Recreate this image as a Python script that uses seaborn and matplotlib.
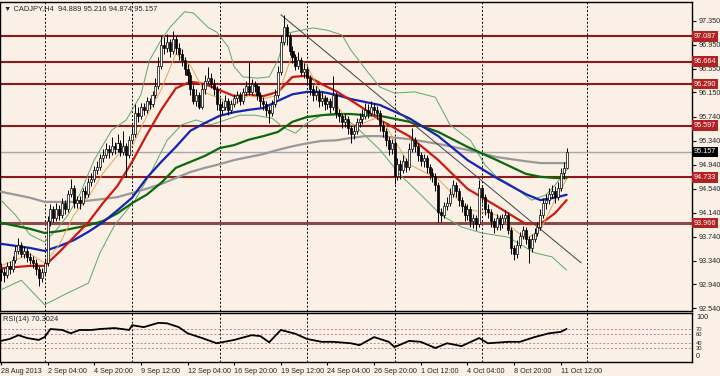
import matplotlib
matplotlib.use("Agg")
import matplotlib.pyplot as plt
import matplotlib.transforms as mtransforms
import seaborn as sns

# ---- candles (H4 bars, index 0 = 28 Aug 12:00) ----
first_open = 93.20
closes = [93.15, 93.10, 93.25, 93.20, 93.35, 93.50, 93.60, 93.45, 93.50, 93.40,
          93.35, 93.30, 93.20, 93.05, 93.15, 93.30, 94.00, 94.20, 94.05, 94.20,
          94.10, 94.30, 94.20, 94.45, 94.55, 94.30, 94.35, 94.30, 94.50, 94.45,
          94.65, 94.70, 94.85, 94.90, 95.05, 95.10, 95.20, 95.15, 95.25, 95.20,
          95.30, 95.15, 95.25, 95.10, 95.35, 95.45, 95.80, 95.75, 95.90, 95.85,
          96.00, 95.95, 96.10, 96.25, 96.60, 96.95, 96.90, 97.00, 96.85, 97.05,
          96.90, 96.80, 96.70, 96.55, 96.45, 96.20, 96.00, 96.10, 95.90, 96.20,
          96.35, 96.40, 96.30, 96.20, 95.95, 95.85, 95.90, 96.00, 95.85, 95.95,
          96.05, 96.10, 96.00, 96.15, 96.25, 96.15, 96.30, 96.25, 96.10, 96.00,
          95.95, 95.85, 95.80, 95.95, 96.10, 96.50, 97.00, 97.25, 97.10, 96.85,
          96.75, 96.60, 96.70, 96.50, 96.55, 96.40, 96.20, 96.10, 96.15, 96.00,
          96.05, 95.95, 96.00, 95.90, 96.10, 95.80, 95.75, 95.65, 95.70, 95.55,
          95.45, 95.50, 95.65, 95.70, 95.75, 95.85, 95.80, 95.90, 95.85, 95.80,
          95.60, 95.50, 95.35, 95.20, 95.30, 94.75, 94.95, 94.85, 95.00, 94.90,
          95.20, 95.35, 95.25, 95.10, 95.00, 95.05, 94.90, 94.80, 94.75, 94.60,
          94.15, 94.10, 94.25, 94.30, 94.45, 94.60, 94.50, 94.35, 94.25, 94.10,
          94.20, 94.00, 94.05, 93.95, 94.55, 94.40, 94.20, 94.15, 94.00, 93.90,
          94.05, 93.95, 94.05, 94.10, 93.85, 93.55, 93.45, 93.60, 93.75, 93.85,
          93.70, 93.55, 93.70, 93.80, 93.90, 94.10, 94.30, 94.35, 94.45, 94.50,
          94.40, 94.55, 94.80, 94.889, 95.157]
highs = [93.30, 93.22, 93.32, 93.33, 93.42, 93.58, 93.72, 93.65, 93.58, 93.55,
         93.46, 93.42, 93.36, 93.25, 93.22, 93.38, 94.08, 94.28, 94.25, 94.30,
         94.26, 94.38, 94.35, 94.52, 94.70, 94.60, 94.42, 94.42, 94.56, 94.58,
         94.72, 94.80, 94.92, 95.00, 95.12, 95.20, 95.30, 95.28, 95.40, 95.32,
         95.45, 95.35, 95.50, 95.30, 95.42, 95.55, 95.95, 95.90, 95.98, 95.98,
         96.08, 96.06, 96.18, 96.40, 96.75, 97.10, 97.08, 97.12, 97.05, 97.17,
         97.10, 96.98, 96.88, 96.75, 96.62, 96.50, 96.28, 96.20, 96.15, 96.30,
         96.45, 96.58, 96.48, 96.38, 96.25, 96.05, 96.00, 96.10, 96.05, 96.02,
         96.12, 96.18, 96.16, 96.22, 96.35, 96.66, 96.38, 96.35, 96.30, 96.15,
         96.08, 96.00, 95.92, 96.02, 96.20, 96.60, 97.10, 97.45, 97.30, 97.15,
         96.92, 96.80, 96.82, 96.75, 96.65, 96.60, 96.45, 96.28, 96.25, 96.20,
         96.15, 96.10, 96.08, 96.05, 96.42, 96.15, 95.88, 95.80, 95.80, 95.75,
         95.60, 95.60, 95.72, 95.80, 95.88, 95.98, 95.95, 96.00, 95.98, 95.92,
         95.85, 95.68, 95.55, 95.40, 95.38, 95.35, 95.05, 95.02, 95.10, 95.05,
         95.30, 95.55, 95.40, 95.30, 95.15, 95.12, 95.10, 94.95, 94.88, 94.80,
         94.65, 94.22, 94.32, 94.40, 94.55, 94.68, 94.65, 94.55, 94.40, 94.30,
         94.28, 94.25, 94.12, 94.10, 94.68, 94.60, 94.45, 94.28, 94.20, 94.05,
         94.12, 94.10, 94.12, 94.18, 94.15, 93.90, 93.60, 93.68, 93.82, 93.92,
         93.90, 93.75, 93.78, 93.88, 93.98, 94.20, 94.38, 94.45, 94.55, 94.60,
         94.58, 94.65, 94.88, 94.98, 95.216]
lows = [93.00, 92.98, 93.05, 93.12, 93.15, 93.30, 93.45, 93.40, 93.38, 93.32,
        93.28, 93.22, 93.10, 92.92, 92.98, 93.10, 93.25, 93.92, 93.98, 94.00,
        94.02, 94.05, 94.12, 94.15, 94.40, 94.22, 94.22, 94.20, 94.26, 94.38,
        94.40, 94.58, 94.65, 94.78, 94.85, 94.98, 95.05, 95.06, 95.10, 95.12,
        95.15, 95.08, 95.10, 94.73, 95.05, 95.30, 95.40, 95.65, 95.70, 95.78,
        95.80, 95.88, 95.90, 96.05, 96.20, 96.55, 96.80, 96.82, 96.75, 96.80,
        96.80, 96.70, 96.60, 96.45, 96.30, 96.10, 95.95, 95.92, 95.87, 95.88,
        96.12, 96.30, 96.22, 96.10, 95.85, 95.50, 95.78, 95.85, 95.78, 95.80,
        95.90, 95.98, 95.94, 95.96, 96.10, 96.10, 96.10, 96.15, 96.02, 95.90,
        95.85, 95.75, 95.64, 95.75, 95.90, 96.05, 96.45, 96.95, 96.95, 96.78,
        96.65, 96.52, 96.55, 96.42, 96.40, 96.30, 96.10, 96.00, 96.02, 95.90,
        95.92, 95.85, 95.88, 95.80, 95.85, 95.72, 95.65, 95.55, 95.58, 95.45,
        95.30, 95.38, 95.45, 95.58, 95.62, 95.70, 95.72, 95.75, 95.78, 95.70,
        95.50, 95.40, 95.25, 95.10, 95.12, 94.62, 94.68, 94.70, 94.80, 94.82,
        94.85, 95.15, 95.15, 95.00, 94.92, 94.90, 94.80, 94.70, 94.65, 94.50,
        93.98, 93.98, 94.05, 94.18, 94.25, 94.40, 94.40, 94.25, 94.15, 94.00,
        94.02, 93.90, 93.88, 93.85, 93.90, 94.30, 94.10, 94.05, 93.90, 93.80,
        93.85, 93.85, 93.88, 93.98, 93.78, 93.45, 93.35, 93.38, 93.55, 93.70,
        93.62, 93.30, 93.48, 93.65, 93.75, 93.85, 94.05, 94.20, 94.28, 94.38,
        94.30, 94.35, 94.50, 94.70, 94.874]

# ---- moving averages, read at sample bars ----
ma_bars = [0, 10, 15, 20, 25, 30, 35, 40, 45, 50, 55, 60, 65, 70, 75, 80, 85,
           90, 95, 100, 105, 110, 115, 120, 125, 130, 140, 150, 160, 170, 180,
           185, 190, 194]
ma_red = [93.21, 93.25, 93.25, 93.48, 93.73, 93.98, 94.30, 94.59, 94.99, 95.44,
          95.86, 96.22, 96.33, 96.29, 96.19, 96.09, 96.11, 96.09, 96.16, 96.41,
          96.43, 96.29, 96.17, 96.02, 95.86, 95.69, 95.42, 95.02, 94.54, 94.25,
          93.95, 93.95, 94.13, 94.35]
ma_blue = [93.62, 93.55, 93.50, 93.58, 93.68, 93.82, 93.98, 94.18, 94.39, 94.72,
           94.99, 95.24, 95.51, 95.64, 95.76, 95.82, 95.86, 95.89, 96.01, 96.12,
           96.16, 96.16, 96.11, 96.04, 95.99, 95.94, 95.72, 95.42, 95.02, 94.72,
           94.45, 94.35, 94.39, 94.44]
ma_green = [93.97, 93.87, 93.80, 93.83, 93.88, 93.93, 94.00, 94.13, 94.30, 94.44,
            94.64, 94.89, 94.99, 95.09, 95.22, 95.27, 95.36, 95.42, 95.49, 95.66,
            95.74, 95.77, 95.79, 95.79, 95.77, 95.76, 95.66, 95.49, 95.24, 95.02,
            94.79, 94.74, 94.72, 94.72]
ma_grey = [94.49, 94.39, 94.32, 94.32, 94.32, 94.34, 94.37, 94.40, 94.47, 94.54,
           94.62, 94.72, 94.82, 94.89, 94.95, 95.02, 95.07, 95.12, 95.19, 95.25,
           95.30, 95.34, 95.35, 95.39, 95.42, 95.42, 95.37, 95.29, 95.19, 95.07,
           95.00, 94.97, 94.97, 94.97]
ma_orange = [93.25, 93.45, 93.30, 93.60, 94.10, 94.40, 94.80, 95.10, 95.25, 95.75,
             96.20, 96.80, 96.60, 96.15, 96.05, 95.95, 96.10, 96.05, 96.10, 96.80,
             96.60, 96.10, 95.95, 95.60, 95.65, 95.75, 94.95, 94.70, 94.20, 94.10,
             93.70, 93.85, 94.35, 94.70]

# ---- bollinger bands ----
bb_up_bars = [0, 5, 10, 15, 19, 23, 27, 32, 38, 43, 48, 51, 55, 58, 63, 66, 71,
              74, 78, 80, 83, 88, 92, 95, 98, 103, 107, 112, 117, 120, 126, 130,
              135, 142, 149, 154, 161, 166, 170, 175, 182, 187, 190, 194]
bb_up = [94.35, 94.10, 93.77, 93.65, 93.85, 94.10, 94.44, 95.02, 95.52, 95.69,
         96.11, 96.69, 97.03, 97.24, 97.50, 97.48, 97.24, 97.16, 96.91, 96.58,
         96.41, 96.39, 96.41, 96.69, 97.14, 97.19, 97.23, 97.19, 97.11, 96.86,
         96.48, 96.24, 96.14, 96.16, 96.07, 95.61, 95.35, 94.94, 94.74, 94.60,
         94.35, 94.44, 94.60, 94.85]
bb_lo_bars = [0, 7, 15, 23, 30, 34, 39, 46, 51, 57, 62, 67, 72, 77, 82, 87, 93,
              97, 101, 105, 110, 117, 123, 130, 137, 144, 151, 158, 165, 174,
              183, 189, 194]
bb_lo = [92.85, 93.01, 92.60, 92.80, 92.96, 93.47, 93.93, 94.35, 94.77, 95.35,
         95.61, 95.69, 95.61, 95.69, 95.77, 95.77, 95.72, 95.56, 95.47, 95.64,
         95.77, 95.77, 95.52, 95.19, 94.77, 94.44, 94.10, 93.90, 93.80, 93.73,
         93.47, 93.40, 93.18]

# ---- RSI(14) ----
rsi_bars = [0, 3, 6, 9, 13, 15, 17, 21, 24, 27, 31, 34, 39, 44, 45, 49, 54, 57,
            61, 64, 69, 74, 80, 86, 89, 92, 96, 101, 105, 110, 114, 120, 123,
            128, 133, 135, 140, 144, 149, 153, 158, 164, 167, 174, 178, 183,
            188, 192, 194]
rsi_vals = [45, 49, 57, 51, 47, 53, 70, 68, 61, 68, 68, 70, 72, 68, 78, 74, 83,
            82, 74, 61, 51, 40, 47, 57, 55, 42, 68, 60, 49, 43, 43, 40, 36, 53,
            43, 32, 45, 43, 30, 40, 34, 51, 40, 43, 43, 53, 61, 64, 70.3]
rsi_levels = [70, 60, 40, 30]

# ---- chart objects ----
hlines = [97.087, 96.664, 96.290, 95.597, 94.733, 93.966]
last_price = 95.157
trend_bars = [96, 199]
trend_prices = [97.45, 93.30]
week_bars = [15, 45, 75, 105, 135, 165, 201]
price_ticks = [97.350, 96.950, 96.550, 96.150, 95.740, 95.340, 94.940, 94.540,
               94.140, 93.740, 93.340, 92.940, 92.540]
date_bars = [0, 16, 32, 48, 64, 80, 96, 112, 128, 144, 160, 176, 192]
date_labels = ["28 Aug 2013", "2 Sep 04:00", "4 Sep 20:00", "9 Sep 12:00",
               "12 Sep 04:00", "16 Sep 20:00", "19 Sep 12:00", "24 Sep 04:00",
               "26 Sep 20:00", "1 Oct 12:00", "4 Oct 04:00", "8 Oct 20:00",
               "11 Oct 12:00"]

bg = "#FAF0E6"
sns.set_style("white", {"axes.facecolor": bg, "figure.facecolor": bg,
                        "axes.edgecolor": "black"})
plt.rcParams["font.family"] = ["Liberation Sans", "DejaVu Sans"]
fs = 5.2

fig = plt.figure(figsize=(7.2, 3.76), dpi=100)
ax = fig.add_axes([0.0, 0.1729, 0.9611, 0.8218])
ax2 = fig.add_axes([0.0, 0.0372, 0.9611, 0.1303], sharex=ax)

bars = list(range(len(closes)))
opens = [first_open] + closes[:-1]

for a in (ax, ax2):
    for b in week_bars:
        a.axvline(b, color="black", lw=0.7, ls=(0, (2, 2)), zorder=1)

for p in hlines:
    lw = 2.2 if p == hlines[-1] else 1.5
    col = "#8a4a4a" if p == hlines[-1] else "#8B1A1A"
    ax.axhline(p, color=col, lw=lw, zorder=2)
ax.axhline(last_price, color="#a8a8a8", lw=1, zorder=2)

# bands and averages
sns.lineplot(x=bb_up_bars, y=bb_up, ax=ax, color="#5aa86a", lw=0.7, zorder=3)
sns.lineplot(x=bb_lo_bars, y=bb_lo, ax=ax, color="#5aa86a", lw=0.7, zorder=3)
sns.lineplot(x=ma_bars, y=ma_grey, ax=ax, color="#999999", lw=1.6, zorder=3)
sns.lineplot(x=ma_bars, y=ma_green, ax=ax, color="#0a6a0a", lw=1.6, zorder=3)
sns.lineplot(x=ma_bars, y=ma_blue, ax=ax, color="#1424b0", lw=1.6, zorder=3)
sns.lineplot(x=ma_bars, y=ma_red, ax=ax, color="#cc1a10", lw=1.6, zorder=3)
sns.lineplot(x=ma_bars, y=ma_orange, ax=ax, color="#e0a850", lw=0.7, zorder=3)
ax.plot(trend_bars, trend_prices, color="#404040", lw=0.7, zorder=4)

# candles
ax.vlines(bars, lows, highs, color="black", lw=0.7, zorder=5)
bodies = [abs(c - o) for o, c in zip(opens, closes)]
bottoms = [min(o, c) for o, c in zip(opens, closes)]
faces = ["white" if c >= o else "black" for o, c in zip(opens, closes)]
ax.bar(bars, bodies, bottom=bottoms, width=0.7, color=faces,
       edgecolor="black", lw=0.5, zorder=6)

ax.set_xlim(-0.3, 237.0)
ax.set_ylim(92.496, 97.663)
ax.yaxis.tick_right()
ax.set_yticks(price_ticks)
ax.set_yticklabels([f"{v:.3f}" for v in price_ticks])
ax.tick_params(axis="y", length=3, labelsize=fs, pad=1.5, direction="out",
               right=True, color="black")
ax.tick_params(axis="x", bottom=False, labelbottom=False)
ax.set_xlabel("")
ax.set_ylabel("")

tr = mtransforms.blended_transform_factory(ax.transAxes, ax.transData)
for p in hlines:
    ax.text(1.003, p, f"{p:.3f}", transform=tr, va="center", ha="left",
            fontsize=fs, color="white", clip_on=False, zorder=10,
            bbox=dict(boxstyle="square,pad=0.25", fc="#b22222", ec="none"))
ax.text(1.003, last_price, f"{last_price:.3f}", transform=tr, va="center",
        ha="left", fontsize=fs, color="white", clip_on=False, zorder=10,
        bbox=dict(boxstyle="square,pad=0.25", fc="black", ec="none"))

fig.text(4 / 720, 1 - 9 / 376, "\u25bc CADJPY,H4  94.889 95.216 94.874 95.157",
         fontsize=5.4, va="center", ha="left")

# RSI panel
for lv in rsi_levels:
    ax2.axhline(lv, color="#c08888", lw=0.7, ls=(0, (2, 2)), zorder=2)
sns.lineplot(x=rsi_bars, y=rsi_vals, ax=ax2, color="black", lw=1.3, zorder=4)
ax2.set_ylim(0.5, 103.7)
ax2.yaxis.tick_right()
ax2.set_yticks(rsi_levels)
ax2.set_yticklabels([str(v) for v in rsi_levels])
ax2.tick_params(axis="y", length=0, labelsize=4.2, pad=3)
ax2.text(1.006, 0.97, "100", transform=ax2.transAxes, fontsize=fs,
         va="top", ha="left")
ax2.text(1.006, 0.04, "0", transform=ax2.transAxes, fontsize=fs,
         va="bottom", ha="left")
ax2.text(3 / 692, 0.86, "RSI(14) 70.3024", transform=ax2.transAxes,
         fontsize=5.4, va="center", ha="left")
ax2.set_xticks(date_bars)
ax2.set_xticklabels(date_labels, ha="left")
ax2.tick_params(axis="x", length=2, labelsize=fs, pad=2, direction="out",
                bottom=True, color="black")
ax2.set_xlabel("")
ax2.set_ylabel("")

for a in (ax, ax2):
    for s in a.spines.values():
        s.set_color("black")
        s.set_linewidth(1)

fig.savefig("out.png", dpi=100, facecolor=bg)
